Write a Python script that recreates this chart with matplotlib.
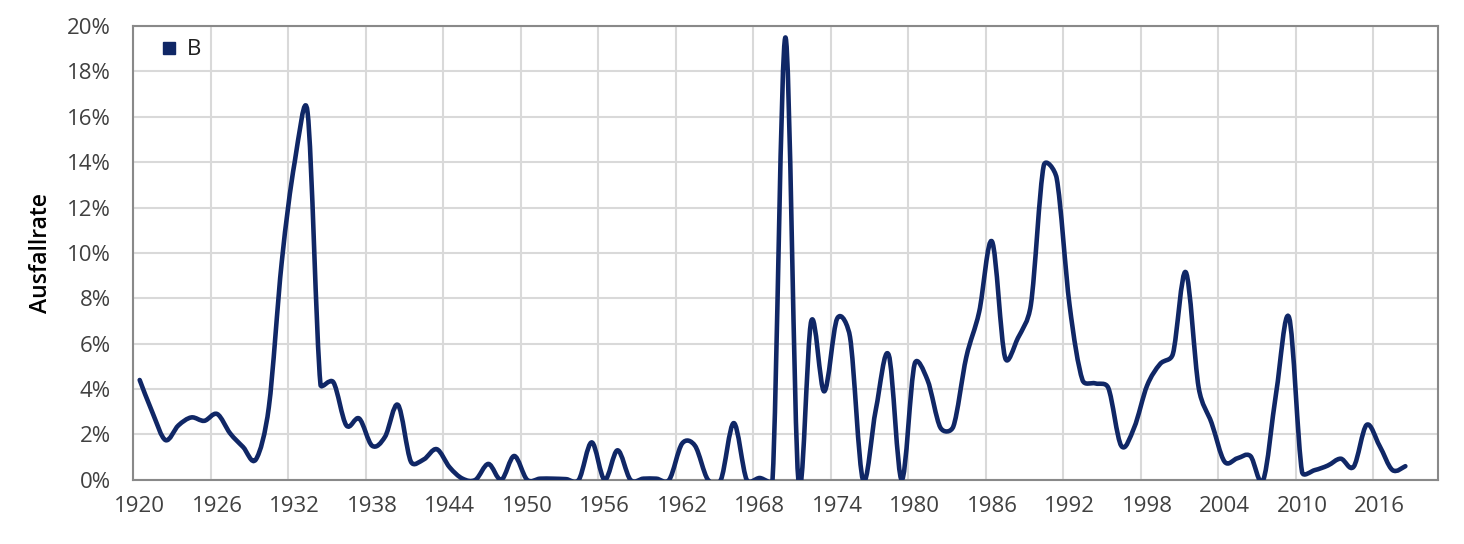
import numpy as np
import matplotlib.pyplot as plt
from matplotlib.path import Path
from matplotlib.patches import PathPatch
from matplotlib.lines import Line2D
from matplotlib.ticker import FuncFormatter

plt.rcParams['font.family'] = ['Open Sans', 'DejaVu Sans']

years = list(range(1920, 2019))
# Ausfallrate in %
rate = [4.4, 2.95, 1.75, 2.4, 2.75, 2.6, 2.9, 2.05, 1.45, 0.9,
        3.2, 9.6, 14.0, 16.2, 4.2, 4.3, 2.4, 2.7, 1.5, 1.9,
        3.3, 0.8, 0.9, 1.35, 0.55, 0.05, 0.0, 0.7, 0.0, 1.05,
        0.0, 0.05, 0.05, 0.03, 0.0, 1.65, 0.0, 1.3, 0.0, 0.05,
        0.05, 0.0, 1.6, 1.5, 0.0, 0.0, 2.5, 0.0, 0.08, 0.0,
        19.5, 0.0, 7.0, 3.9, 7.1, 6.3, 0.0, 3.1, 5.5, 0.0,
        5.1, 4.4, 2.3, 2.35, 5.4, 7.4, 10.5, 5.4, 6.25, 7.7,
        13.85, 13.3, 7.7, 4.4, 4.25, 4.05, 1.5, 2.3, 4.15, 5.1,
        5.55, 9.15, 4.05, 2.5, 0.8, 0.95, 1.05, 0.0, 3.85, 7.15,
        0.35, 0.43, 0.63, 0.93, 0.58, 2.42, 1.5, 0.43, 0.6]
series_name = 'B'
xticks = list(range(1920, 2017, 6))
yticks = list(range(0, 21, 2))

navy = '#102766'

fig = plt.figure(figsize=(14.64, 5.44), dpi=100)
ax = fig.add_axes([0.091, 0.118, 0.891, 0.834])
ax.set_xlim(1919.5, 2020.5)
ax.set_ylim(0, 20)


def excel_smooth(xs, ys):
    # Excel-style smoothed line: Catmull-Rom Bezier, control points
    # shortened when the neighbour segments are much longer (screen space)
    pts = ax.transData.transform(np.column_stack([xs, ys]))
    n = len(pts)
    verts = [pts[0]]
    codes = [Path.MOVETO]
    for i in range(n - 1):
        p0 = pts[i - 1] if i > 0 else pts[i]
        p1 = pts[i]
        p2 = pts[i + 1]
        p3 = pts[i + 2] if i + 2 < n else pts[i + 1]
        d02 = np.hypot(*(p2 - p0))
        d12 = np.hypot(*(p2 - p1))
        d13 = np.hypot(*(p3 - p1))
        f1 = 1 / 6 if d02 / 6 < d12 / 2 or d02 == 0 else d12 / (2 * d02)
        f2 = 1 / 6 if d13 / 6 < d12 / 2 or d13 == 0 else d12 / (2 * d13)
        verts += [p1 + (p2 - p0) * f1, p2 - (p3 - p1) * f2, p2]
        codes += [Path.CURVE4] * 3
    verts = ax.transData.inverted().transform(np.array(verts))
    return Path(verts, codes)


patch = PathPatch(excel_smooth(years, rate), facecolor='none', edgecolor=navy,
                  lw=3.3, capstyle='round', joinstyle='round', zorder=3)
ax.add_patch(patch)

ax.set_xticks(xticks)
ax.set_xticks(np.arange(1919.5, 2020, 6), minor=True)
ax.set_yticks(yticks)
ax.yaxis.set_major_formatter(FuncFormatter(lambda v, p: '%d%%' % v))
ax.grid(False)
ax.xaxis.grid(True, which='minor', color='#d9d9d9', lw=1.5)
ax.yaxis.grid(True, which='major', color='#d9d9d9', lw=1.5)
ax.set_axisbelow(True)
ax.tick_params(which='both', length=0, labelsize=16, colors='#404040')
ax.tick_params(axis='x', pad=12)
ax.tick_params(axis='y', pad=16)
for s in ax.spines.values():
    s.set_color('#898989')
    s.set_linewidth(1.5)

ax.set_ylabel('Ausfallrate', fontsize=16.5, fontweight='semibold',
              color='#000000', labelpad=10)

handle = Line2D([], [], marker='s', color=navy, ls='none', markersize=9)
ax.legend([handle], [series_name], loc='upper left', frameon=False,
          fontsize=16, handletextpad=-0.2, borderaxespad=0.2,
          bbox_to_anchor=(0.0, 1.0), labelcolor='#202020')

fig.savefig('out.png', dpi=100)
